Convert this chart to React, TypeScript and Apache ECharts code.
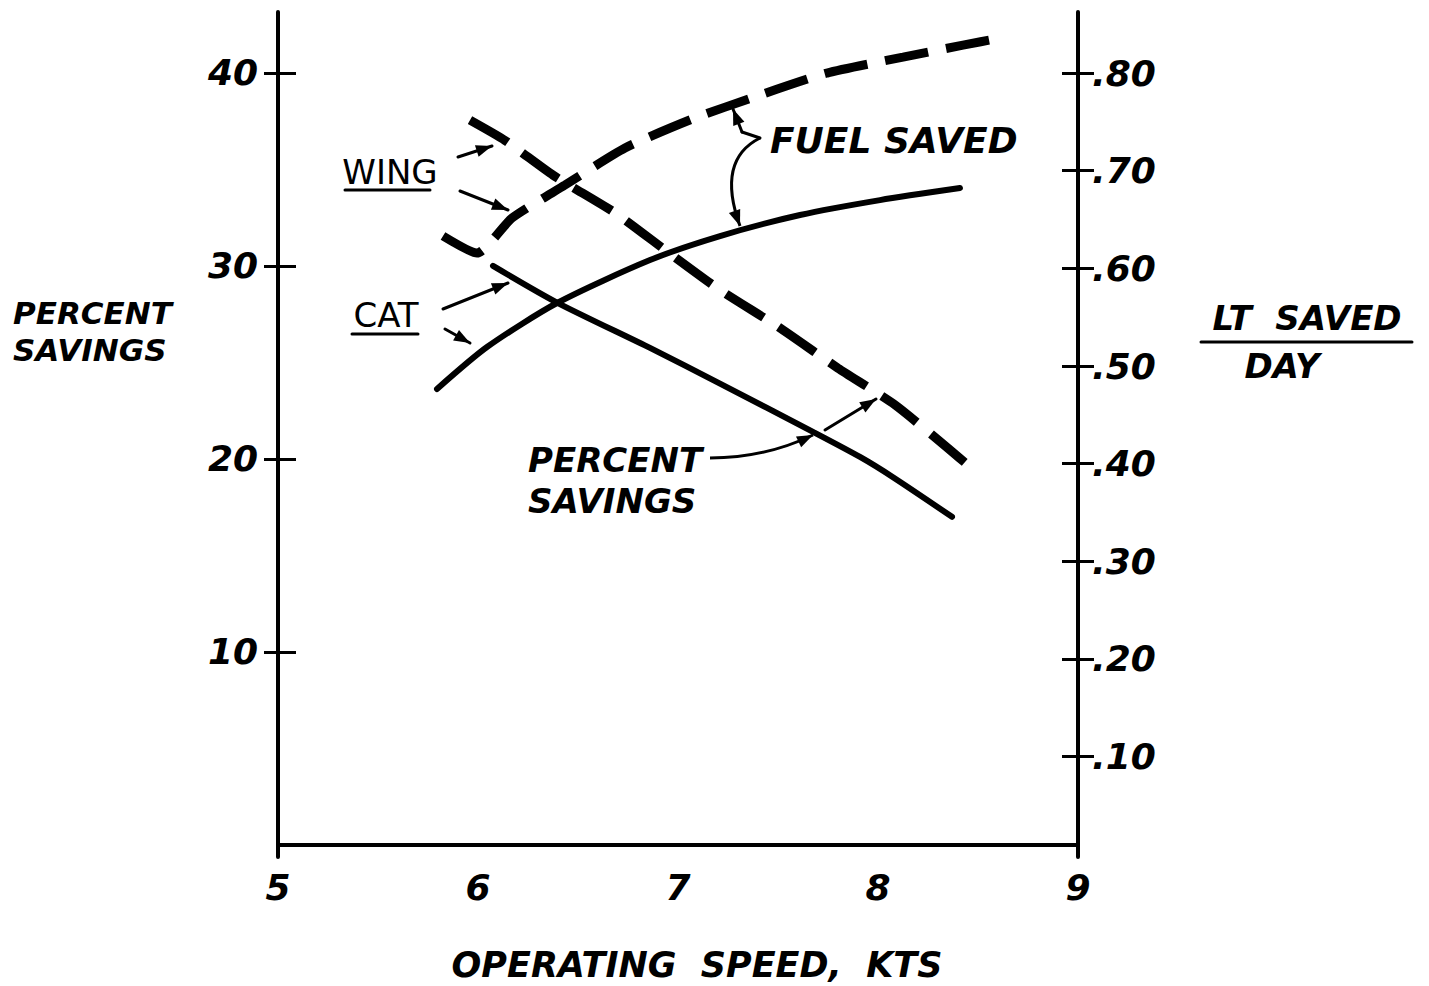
import React, { useEffect, useRef } from "react";
import * as echarts from "echarts";

// ---- data ----
const xTicks = [5, 6, 7, 8, 9];
const leftTicks = [10, 20, 30, 40];
const rightTicks = [0.1, 0.2, 0.3, 0.4, 0.5, 0.6, 0.7, 0.8];

// CAT, percent savings (left axis, solid, falling)
const catPctSpeed = [6.075, 6.395, 6.86, 7.21, 7.675, 7.91, 8.075, 8.37];
const catPctValue = [30.0, 28.1, 25.75, 23.9, 21.4, 20.1, 19.05, 17.0];

// CAT, fuel saved LT/day (right axis, solid, rising)
const catFuelSpeed = [5.795, 6.045, 6.395, 6.86, 7.21, 7.61, 8.01, 8.41];
const catFuelValue = [0.4765, 0.5194, 0.5645, 0.6085, 0.6331, 0.6546, 0.6699, 0.6822];

// WING, percent savings (left axis, dashed, falling)
const wingPctSpeed = [5.96, 6.135, 6.375, 6.685, 6.945, 7.21, 7.5, 7.8, 8.085, 8.35, 8.47];
const wingPctValue = [37.55, 36.5, 34.7, 32.75, 30.75, 28.75, 26.85, 24.7, 22.8, 20.55, 19.5];

// WING, fuel saved LT/day (right axis, dashed, rising)
const wingFuelSpeed = [5.825, 5.995, 6.17, 6.435, 6.735, 7.07, 7.395, 7.745, 8.125, 8.425, 8.61];
const wingFuelValue = [0.6331, 0.6157, 0.6515, 0.6853, 0.7232, 0.7528, 0.7764, 0.8, 0.8163, 0.8286, 0.8358];

const zip = (xs: number[], ys: number[]) => xs.map((x, i) => [x, ys[i]]);

const FONT = '"DejaVu Sans", "Liberation Sans", sans-serif';
const INK = "#000";

function txt(text: string, x: number, y: number, size: number, align = "left", italic = true, bold = true) {
  return {
    type: "text",
    x,
    y,
    z: 20,
    style: {
      text,
      fill: INK,
      fontFamily: FONT,
      fontSize: size,
      fontStyle: italic ? "italic" : "normal",
      fontWeight: bold ? "bold" : "normal",
      align,
      verticalAlign: "middle",
    },
  };
}

function seg(x1: number, y1: number, x2: number, y2: number, w = 3) {
  return {
    type: "line",
    z: 20,
    shape: { x1, y1, x2, y2 },
    style: { stroke: INK, lineWidth: w, lineCap: "round" },
  };
}

function head(tx: number, ty: number, fx: number, fy: number, len = 16, half = 6) {
  const dx = tx - fx;
  const dy = ty - fy;
  const d = Math.sqrt(dx * dx + dy * dy) || 1;
  const ux = dx / d;
  const uy = dy / d;
  const bx = tx - ux * len;
  const by = ty - uy * len;
  return {
    type: "polygon",
    z: 20,
    shape: {
      points: [
        [tx, ty],
        [bx - uy * half, by + ux * half],
        [bx + uy * half, by - ux * half],
      ],
    },
    style: { fill: INK },
  };
}

function arrow(x1: number, y1: number, x2: number, y2: number, w = 3) {
  return [seg(x1, y1, x2, y2, w), head(x2, y2, x1, y1)];
}

function curveArrow(x1: number, y1: number, cx: number, cy: number, x2: number, y2: number, w = 3) {
  return [
    {
      type: "bezierCurve",
      z: 20,
      shape: { x1, y1, x2, y2, cpx1: cx, cpy1: cy },
      style: { stroke: INK, lineWidth: w, fill: null },
    },
    head(x2, y2, cx, cy),
  ];
}

const tickLabel = {
  color: INK,
  fontFamily: FONT,
  fontSize: 36,
  fontStyle: "italic",
  fontWeight: "bold",
};

export default function App() {
  const ref = useRef<HTMLDivElement>(null);

  useEffect(() => {
    document.body.style.margin = "0";
    if (!ref.current) return;
    const chart = echarts.init(ref.current, undefined, { renderer: "svg" });

    const graphic: any[] = [
      // left title
      txt("PERCENT", 13, 313, 31),
      txt("SAVINGS", 13, 350, 31),
      // right title
      txt("LT  SAVED", 1307, 318, 34, "center"),
      seg(1201, 342, 1412, 342, 3),
      txt("DAY", 1282, 366, 34, "center"),
      // x title
      txt("OPERATING  SPEED,  KTS", 697, 965, 35, "center"),
      // curve labels
      txt("FUEL SAVED", 770, 140, 36),
      txt("PERCENT", 528, 460, 34),
      txt("SAVINGS", 528, 501, 34),
      txt("WING", 390, 172, 34, "center", false, false),
      seg(345, 190, 430, 190, 3),
      txt("CAT", 386, 315, 34, "center", false, false),
      seg(352, 334, 418, 334, 3),
      // axis overhangs below the x axis
      seg(278, 845, 278, 857, 4),
      seg(1078, 845, 1078, 857, 4),
      // WING arrows
      ...arrow(458, 157, 492, 146),
      ...arrow(460, 191, 508, 210),
      // CAT arrows
      ...arrow(443, 309, 508, 283),
      ...arrow(445, 329, 470, 343),
      // FUEL SAVED arrows
      seg(760, 138, 742, 132, 3),
      ...arrow(742, 132, 733, 109),
      ...curveArrow(760, 138, 716, 160, 740, 226),
      // PERCENT SAVINGS arrows
      ...curveArrow(710, 458, 765, 458, 813, 435),
      ...arrow(825, 430, 876, 399),
    ];

    const leftRange = { min: 0, max: 43.15 };
    const rightRange = { min: 0.0095, max: 0.8625 };

    chart.setOption({
      animation: false,
      backgroundColor: "#fff",
      grid: { left: 278, right: 351, top: 12, bottom: 141, containLabel: false },
      xAxis: {
        type: "value",
        min: 5,
        max: 9,
        interval: 1,
        axisLine: { show: true, lineStyle: { color: INK, width: 4 } },
        axisTick: { show: false },
        splitLine: { show: false },
        axisLabel: { ...tickLabel, margin: 24, customValues: xTicks },
      },
      yAxis: [
        {
          type: "value",
          position: "left",
          ...leftRange,
          axisLine: { show: true, lineStyle: { color: INK, width: 4 } },
          axisTick: { show: true, customValues: leftTicks, length: 14, lineStyle: { color: INK, width: 3 } },
          axisLabel: { ...tickLabel, margin: 20, customValues: leftTicks },
          splitLine: { show: false },
        },
        {
          type: "value",
          position: "right",
          ...rightRange,
          axisLine: { show: true, lineStyle: { color: INK, width: 4 } },
          axisTick: { show: true, customValues: rightTicks, length: 16, lineStyle: { color: INK, width: 3 } },
          axisLabel: {
            ...tickLabel,
            margin: 14,
            customValues: rightTicks,
            formatter: (v: number) => "." + Math.round(v * 100),
          },
          splitLine: { show: false },
        },
        {
          type: "value",
          position: "left",
          ...leftRange,
          axisLine: { show: false },
          axisTick: { show: true, inside: true, customValues: leftTicks, length: 18, lineStyle: { color: INK, width: 3 } },
          axisLabel: { show: false },
          splitLine: { show: false },
        },
        {
          type: "value",
          position: "right",
          ...rightRange,
          axisLine: { show: false },
          axisTick: { show: true, inside: true, customValues: rightTicks, length: 16, lineStyle: { color: INK, width: 3 } },
          axisLabel: { show: false },
          splitLine: { show: false },
        },
      ],
      series: [
        {
          name: "CAT percent savings",
          type: "line",
          yAxisIndex: 0,
          data: zip(catPctSpeed, catPctValue),
          symbol: "none",
          smooth: 0.25,
          lineStyle: { color: INK, width: 6, cap: "round" },
          z: 5,
        },
        {
          name: "CAT fuel saved",
          type: "line",
          yAxisIndex: 1,
          data: zip(catFuelSpeed, catFuelValue),
          symbol: "none",
          smooth: 0.25,
          lineStyle: { color: INK, width: 6, cap: "round" },
          z: 5,
        },
        {
          name: "WING percent savings",
          type: "line",
          yAxisIndex: 0,
          data: zip(wingPctSpeed, wingPctValue),
          symbol: "none",
          smooth: 0.2,
          lineStyle: { color: INK, width: 9, type: [44, 18], cap: "butt" },
          z: 5,
        },
        {
          name: "WING fuel saved",
          type: "line",
          yAxisIndex: 1,
          data: zip(wingFuelSpeed, wingFuelValue),
          symbol: "none",
          smooth: 0.2,
          lineStyle: { color: INK, width: 9, type: [44, 18], cap: "butt" },
          z: 5,
        },
      ],
      graphic,
    });

    return () => chart.dispose();
  }, []);

  return <div ref={ref} style={{ width: 1429, height: 986 }} />;
}
